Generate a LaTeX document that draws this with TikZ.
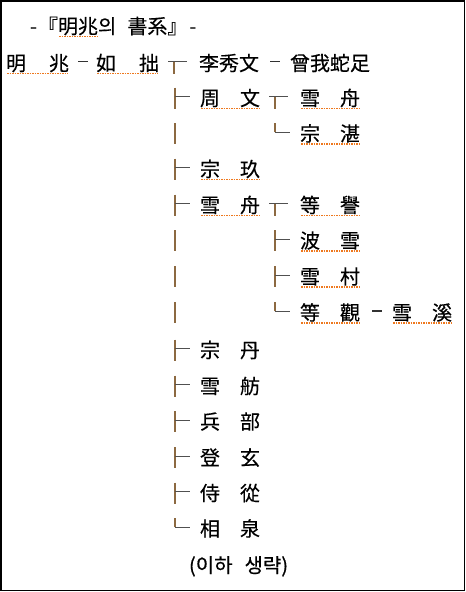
\documentclass[tikz,border=0pt]{standalone}
\usepackage{fontspec}
\setmainfont{Noto Sans CJK KR}[FakeBold=0.4]
\usetikzlibrary{calc}
\definecolor{vcol}{RGB}{140,105,65}
\definecolor{hcol}{RGB}{80,80,80}
\definecolor{dcol}{RGB}{50,50,50}
\definecolor{sqcol}{RGB}{238,120,30}
\newcommand\brT[1]{%
  \draw[vl] ([xshift=-25pt,yshift=10.5pt]#1.west) -- ([xshift=-25pt,yshift=-10.5pt]#1.west);
  \draw[hl] ([xshift=-25.5pt,yshift=1.5pt]#1.west) -- ([xshift=-10pt,yshift=1.5pt]#1.west);}
\newcommand\brL[1]{%
  \draw[vl] ([xshift=-25pt,yshift=10.5pt]#1.west) -- ([xshift=-25pt,yshift=1.5pt]#1.west);
  \draw[hl] ([xshift=-25.5pt,yshift=1.5pt]#1.west) -- ([xshift=-10pt,yshift=1.5pt]#1.west);}
\newcommand\brTop[1]{%
  \draw[hl] ([xshift=-31pt,yshift=1.5pt]#1.west) -- ([xshift=-12pt,yshift=1.5pt]#1.west);
  \draw[vl] ([xshift=-25pt,yshift=1.5pt]#1.west) -- ([xshift=-25pt,yshift=-10.5pt]#1.west);}
\newcommand\brI[1]{%
  \draw[vl] ([xshift=-125pt,yshift=10.5pt]#1.west) -- ([xshift=-125pt,yshift=-10.5pt]#1.west);}
\newcommand\sqg[1]{%
  \draw[sq] ([xshift=1pt,yshift=-0.5pt]#1.south west) -- ([xshift=-1pt,yshift=-0.5pt]#1.south east);}
\begin{document}
\begin{tikzpicture}[x=1pt,y=-1pt,
  nm/.style={inner sep=0pt, outer sep=0pt, anchor=west,
    font=\fontsize{20pt}{24pt}\selectfont, text height=17.6pt, text depth=2.4pt},
  vl/.style={line width=1.2pt, draw=vcol},
  hl/.style={line width=1pt, draw=hcol},
  dl/.style={line width=1.2pt, draw=dcol},
  sq/.style={line width=1.5pt, draw=sqcol, dash pattern=on 1.5pt off 1pt}]
\useasboundingbox (0,0) rectangle (466,592);
\draw[line width=1.5pt] (0.75,0.75) rectangle (464.5,590.5);
% title
\node[nm] (tb) at (58,26) {明兆};
\node[nm, anchor=east] (ta) at (tb.west) {-\hspace{1pt}『};
\node[nm] (tc) at (tb.east) {의\hspace{11pt}書系』\hspace{2pt}-};
\sqg{tb}
% names
\node[nm] (mz) at (6,63) {明\hspace{23pt}兆};
\node[nm] (rz) at (96,63) {如\hspace{23pt}拙};
\node[nm] (lsw) at (199,63) {李秀文};
\node[nm] (zw) at (290,63) {曾我蛇足};
\node[nm] (zm) at (200,98) {周\hspace{1em}文};
\node[nm] (xz1) at (300,98) {雪\hspace{1em}舟};
\node[nm] (zz) at (300,133.5) {宗\hspace{1em}湛};
\node[nm] (zj) at (200,169) {宗\hspace{1em}玖};
\node[nm] (xz2) at (200,205) {雪\hspace{1em}舟};
\node[nm] (dy) at (300,205) {等\hspace{1em}譽};
\node[nm] (bx) at (300,240.5) {波\hspace{1em}雪};
\node[nm] (xc) at (300,276.5) {雪\hspace{1em}村};
\node[nm] (dg) at (300,312.5) {等\hspace{1em}觀};
\node[nm] (xx) at (392,312.5) {雪\hspace{1em}溪};
\node[nm] (zd) at (200,350) {宗\hspace{1em}丹};
\node[nm] (xf) at (200,386) {雪\hspace{1em}舫};
\node[nm] (bb) at (200,421.5) {兵\hspace{1em}部};
\node[nm] (dx) at (200,457.5) {登\hspace{1em}玄};
\node[nm] (sc) at (200,493) {侍\hspace{1em}從};
\node[nm] (xq) at (200,528.5) {相\hspace{1em}泉};
\node[nm] (om) at (189,565) {(이하\hspace{12pt}생략)};
% dashes
\draw[dl] ([xshift=9pt,yshift=1.5pt]mz.east) -- ([xshift=-8pt,yshift=1.5pt]rz.west);
\draw[dl] ([xshift=11pt,yshift=1.5pt]lsw.east) -- ([xshift=-10pt,yshift=1.5pt]zw.west);
\draw[dl] ([xshift=12pt,yshift=1.5pt]dg.east) -- ([xshift=-10pt,yshift=1.5pt]xx.west);
% tree
\brTop{lsw}
\brT{zm}
\brI{zz}
\brT{zj}
\brT{xz2}
\brI{bx}
\brI{xc}
\brI{dg}
\brT{zd}
\brT{xf}
\brT{bb}
\brT{dx}
\brT{sc}
\brL{xq}
\brTop{xz1}
\brL{zz}
\brTop{dy}
\brT{bx}
\brT{xc}
\brL{dg}
% squiggles
\foreach \n in {mz,rz,zm,xz1,zz,zj,xz2,dy,bx,xc,dg,xx} {\sqg{\n}}
\end{tikzpicture}
\end{document}
